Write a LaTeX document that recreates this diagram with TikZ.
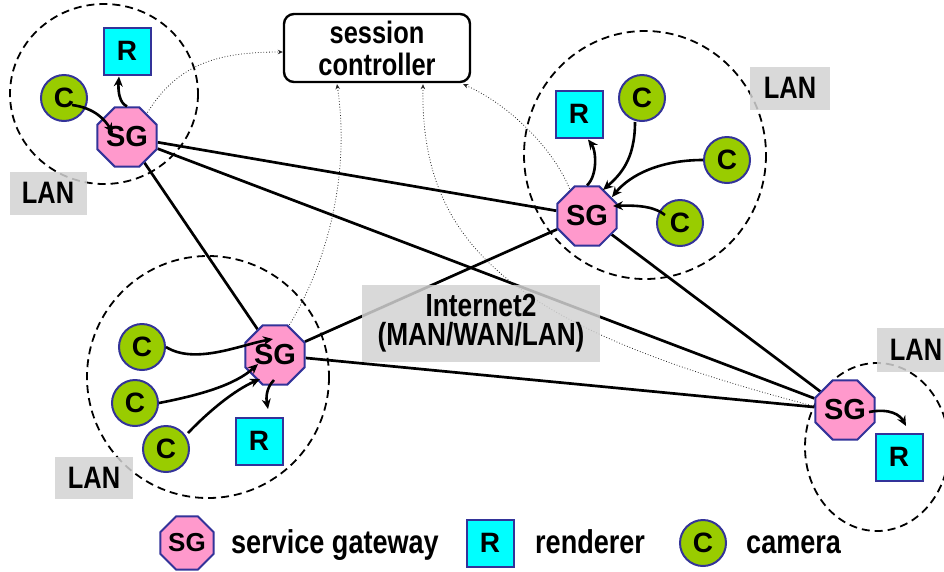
\documentclass[tikz,border=0pt]{standalone}
\usepackage{fontspec}
\setmainfont{Liberation Sans}
\newfontfamily\condsans[FakeStretch=0.82]{Liberation Sans}
\usetikzlibrary{shapes.geometric,arrows.meta,calc}
\definecolor{sgpink}{HTML}{FF99CC}
\definecolor{nodeblue}{HTML}{333399}
\definecolor{rcyan}{HTML}{00FFFF}
\definecolor{cgreen}{HTML}{99CC00}
\definecolor{lanbg}{HTML}{D2D2D2}
\pgfdeclarelayer{bg}
\pgfsetlayers{bg,main}

\begin{document}
\begin{tikzpicture}[x=1pt,y=-1pt,
  sg/.style={regular polygon, regular polygon sides=8,
    minimum size=53pt, inner sep=0pt, fill=sgpink, draw=nodeblue, line width=2pt,
    font=\bfseries\fontsize{29}{29}\selectfont},
  rend/.style={rectangle, minimum size=47pt, inner sep=0pt, fill=rcyan,
    draw=nodeblue, line width=2pt, font=\bfseries\fontsize{28}{28}\selectfont},
  cam/.style={circle, minimum size=46pt, inner sep=0pt, fill=cgreen,
    draw=nodeblue, line width=2pt, font=\bfseries\fontsize{28}{28}\selectfont},
  lan/.style={draw=black, line width=1.8pt, dash pattern=on 8pt off 5pt},
  link/.style={line width=2.7pt},
  feed/.style={line width=2.6pt, -{Stealth[length=10pt,width=9pt]}},
  ctl/.style={black!85, line width=0.8pt, dotted,
    {Stealth[length=5pt,width=4.5pt]}-{Stealth[length=5pt,width=4.5pt]}},
  tag/.style={fill=lanbg, fill opacity=0.85, text opacity=1, inner sep=0pt,
    font=\condsans\bfseries\fontsize{31}{31}\selectfont},
  ctrlbox/.style={draw, line width=2.4pt, rounded corners=10pt, fill=white,
    minimum width=186pt, minimum height=68pt, inner sep=0pt, align=center,
    font=\condsans\bfseries\fontsize{31}{32}\selectfont},
  legtext/.style={inner sep=0pt, font=\condsans\bfseries\fontsize{33}{33}\selectfont},
]
\useasboundingbox (0,0) rectangle (944,571);

% gateways, renderers, cameras
\node[sg] (sg1) at (127,137) {SG};
\node[sg] (sg2) at (275,355) {SG};
\node[sg] (sg3) at (587,216) {SG};
\node[sg] (sg4) at (845,410) {SG};
\node[rend] (r1) at (127,51) {R};
\node[rend] (r2) at (259,441) {R};
\node[rend] (r3) at (579,114) {R};
\node[rend] (r4) at (899,457) {R};
\node[cam] (c1) at (64,98) {C};
\node[cam] (c3a) at (642,98) {C};
\node[cam] (c3b) at (727,160) {C};
\node[cam] (c3c) at (680,223) {C};
\node[cam] (c2a) at (142,347) {C};
\node[cam] (c2b) at (135,403) {C};
\node[cam] (c2c) at (166,449) {C};
\node[ctrlbox] (ctrl) at (377,48) {session\\controller};

\begin{pgfonlayer}{bg}
  % local networks
  \draw[lan] (104,94) ellipse [x radius=94, y radius=90];
  \draw[lan] (208,377) ellipse [x radius=121, y radius=121];
  \draw[lan] (645,155) ellipse [x radius=121, y radius=124];
  \draw[lan] (877,447) ellipse [x radius=72, y radius=84];

  % wide-area links between gateways
  \draw[link] (sg1) -- (sg3);
  \draw[link] (sg1) -- (sg4);
  \draw[link] (sg1) -- (sg2);
  \draw[link] (sg2) -- (sg3);
  \draw[link] (sg2) -- (sg4);
  \draw[link] (sg3) -- (sg4);

  % signalling to the session controller
  \draw[ctl] ($(sg1)+(16,-17)$) .. controls (175,65) and (215,52) .. ($(ctrl.west)+(0,4)$);
  \draw[ctl] ($(ctrl.south)+(-40,1)$) .. controls (350,170) and (330,260) .. ($(sg2)+(10,-23)$);
  \draw[ctl] ($(ctrl.south)+(46,1)$) .. controls (420,250) and (520,330) .. ($(sg4)+(-24,-2)$);
  \draw[ctl] ($(ctrl.south east)+(-8,1)$) .. controls (510,105) and (555,150) .. ($(sg3)+(-15,-21)$);

  % network labels
  \node[tag, minimum width=77pt, minimum height=43pt] (lan1) at (48,193) {LAN};
  \node[tag, minimum width=78pt, minimum height=42pt] (lan2) at (94,478) {LAN};
  \node[tag, minimum width=80pt, minimum height=43pt] (lan3) at (790,88) {LAN};
  \node[tag, minimum width=78pt, minimum height=44pt] (lan4) at (916,350) {LAN};
  \node[tag, minimum width=238pt, minimum height=77pt, align=center,
    font=\condsans\bfseries\fontsize{32}{29}\selectfont] (inet) at (481,323)
    {Internet2\\(MAN/WAN/LAN)};
\end{pgfonlayer}

% media flows inside each network
\draw[feed] ($(c1)+(8,7)$) .. controls (95,108) and (105,120) .. ($(sg1)+(-14,-4)$);
\draw[feed] (sg1.north) .. controls (119,103) and (118,90) .. ($(r1.south)+(-8,1)$);
\draw[feed] (sg3.north) .. controls (598,175) and (596,150) .. ($(r3.south)+(9,1)$);
\draw[feed] ($(c3a)+(-7,24)$) .. controls (635,160) and (620,175) .. ($(sg3)+(16,-26)$);
\draw[feed] (c3b.west) .. controls (660,160) and (630,175) .. ($(sg3)+(25,-19)$);
\draw[feed] ($(c3c)+(-15,-8)$) .. controls (655,207) and (640,205) .. ($(sg3)+(26,-10)$);
\draw[feed] (c2a.east) .. controls (195,365) and (240,345) .. ($(sg2)+(-2,-16)$);
\draw[feed] (c2b.east) .. controls (200,395) and (235,385) .. ($(sg2)+(-17,9)$);
\draw[feed] ($(c2c)+(22,-16)$) .. controls (210,410) and (235,390) .. ($(sg2)+(-15,24)$);
\draw[feed] ($(sg2)+(-1,25)$) .. controls (266,388) and (266,398) .. ($(r2)+(9,-32)$);
\draw[feed] ($(sg4)+(24,2)$) .. controls (890,408) and (900,415) .. ($(r4)+(7,-31)$);

% legend
\node[sg, font=\bfseries\fontsize{26}{26}\selectfont] (ksg) at (187,543) {SG};
\node[legtext, anchor=base west] (ksgt) at (231,553) {service gateway};
\node[rend] (kr) at (490,543) {R};
\node[legtext, anchor=base west] (krt) at (535,553) {renderer};
\node[cam] (kc) at (703,543) {C};
\node[legtext, anchor=base west] (kct) at (746,553) {camera};
\end{tikzpicture}
\end{document}
